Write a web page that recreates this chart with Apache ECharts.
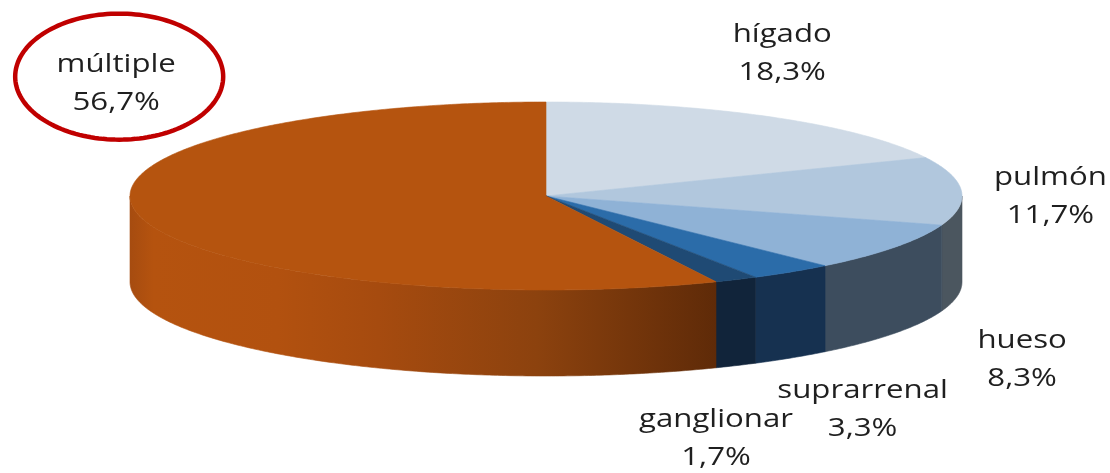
<!DOCTYPE html>
<html>
<head>
<meta charset="utf-8">
<script src="https://cdn.jsdelivr.net/npm/echarts@6/dist/echarts.min.js"></script>
<style>
  html, body { margin: 0; padding: 0; background: #fff; }
  #chart { width: 1110px; height: 473px; }
</style>
</head>
<body>
<div id="chart"></div>
<script>
// Localización de metástasis (% de casos)
const categories = ['hígado', 'pulmón', 'hueso', 'suprarrenal', 'ganglionar', 'múltiple'];
const values = [18.3, 11.7, 8.3, 3.3, 1.7, 56.7];
const valueLabels = ['18,3%', '11,7%', '8,3%', '3,3%', '1,7%', '56,7%'];
const circledCategory = 'múltiple';

// Colours of the top face and the outer wall of each slice
const topColors = ['#cfdae6', '#b1c7dd', '#8fb2d6', '#2b6ca9', '#1f4a74', '#b5540f'];
const sideColors = ['#4e5a66', '#4b565f', '#3d4d5e', '#163150', '#11243a', null];

// Pie geometry (pixels)
const PIE = { cx: 546, cy: 196, rx: 416, ry: 94, depth: 86 };
// Label block offset from the slice's mid-point on the rim
const labelOffsets = [[10, -64], [89, 6], [127, 112], [71, 138], [-20, 159], [-23, -132]];
const LINE_GAP = 38;
const FONT = '26px "Open Sans", sans-serif';
const TEXT_STRETCH = 1.2;

const total = values.reduce((a, b) => a + b, 0);
const cumStart = values.map((_, i) => values.slice(0, i).reduce((a, b) => a + b, 0));

// angle measured clockwise from 12 o'clock
function rimPoint(theta, dy) {
  return [PIE.cx + PIE.rx * Math.sin(theta), PIE.cy - PIE.ry * Math.cos(theta) + (dy || 0)];
}
function arcPoints(a0, a1, dy) {
  const n = Math.max(2, Math.ceil(Math.abs(a1 - a0) / 0.01));
  const pts = [];
  for (let k = 0; k <= n; k++) pts.push(rimPoint(a0 + (a1 - a0) * k / n, dy));
  return pts;
}

const multipleSide = new echarts.graphic.LinearGradient(PIE.cx - PIE.rx, 0, 720, 0, [
  { offset: 0, color: '#a64c10' },
  { offset: 0.04, color: '#b5530f' },
  { offset: 0.25, color: '#b2510f' },
  { offset: 0.42, color: '#a64b0f' },
  { offset: 0.69, color: '#8c420e' },
  { offset: 1, color: '#5e2a08' }
], true);

function label(text, x, y) {
  return {
    type: 'text', z2: 5, x: x, y: y, scaleX: TEXT_STRETCH,
    style: { text: text, x: 0, y: 0, fill: '#1f1f1f', font: FONT,
             align: 'center', verticalAlign: 'middle' }
  };
}

function renderItem(params, api) {
  const i = params.dataIndex;
  const a0 = 2 * Math.PI * cumStart[i] / total;
  const a1 = 2 * Math.PI * (cumStart[i] + values[i]) / total;
  const children = [];

  // outer wall: only the front half (between 3 and 9 o'clock) is visible
  const s0 = Math.max(a0, Math.PI / 2);
  const s1 = Math.min(a1, 3 * Math.PI / 2);
  if (s1 > s0) {
    const top = arcPoints(s0, s1, 0);
    const bottom = arcPoints(s0, s1, PIE.depth).reverse();
    const fill = sideColors[i] || multipleSide;
    children.push({
      type: 'polygon',
      z2: 1,
      shape: { points: top.concat(bottom) },
      style: { fill: fill, stroke: fill, lineWidth: 0.6 }
    });
  }

  // top face
  const face = [[PIE.cx, PIE.cy]].concat(arcPoints(a0, a1, 0));
  children.push({
    type: 'polygon',
    z2: 2,
    shape: { points: face },
    style: { fill: topColors[i], stroke: topColors[i], lineWidth: 0.6 }
  });

  // label
  const mid = rimPoint((a0 + a1) / 2, 0);
  const lx = mid[0] + labelOffsets[i][0];
  const ly = mid[1] + labelOffsets[i][1];
  children.push(label(categories[i], lx, ly - LINE_GAP / 2));
  children.push(label(valueLabels[i], lx, ly + LINE_GAP / 2));

  // highlight ring around a chosen label
  if (categories[i] === circledCategory) {
    const ring = [];
    for (let k = 0; k < 160; k++) {
      const t = 2 * Math.PI * k / 160;
      ring.push([lx + 3 + 104 * Math.cos(t), ly - 7 + 63 * Math.sin(t)]);
    }
    children.push({
      type: 'polygon', z2: 6,
      shape: { points: ring },
      style: { fill: 'none', stroke: '#c00000', lineWidth: 4.5 }
    });
  }

  return { type: 'group', children: children };
}

const chart = echarts.init(document.getElementById('chart'), null, { renderer: 'canvas' });
chart.setOption({
  animation: false,
  backgroundColor: '#ffffff',
  series: [{
    type: 'custom',
    coordinateSystem: 'none',
    renderItem: renderItem,
    data: values,
    silent: true
  }]
});
</script>
</body>
</html>
